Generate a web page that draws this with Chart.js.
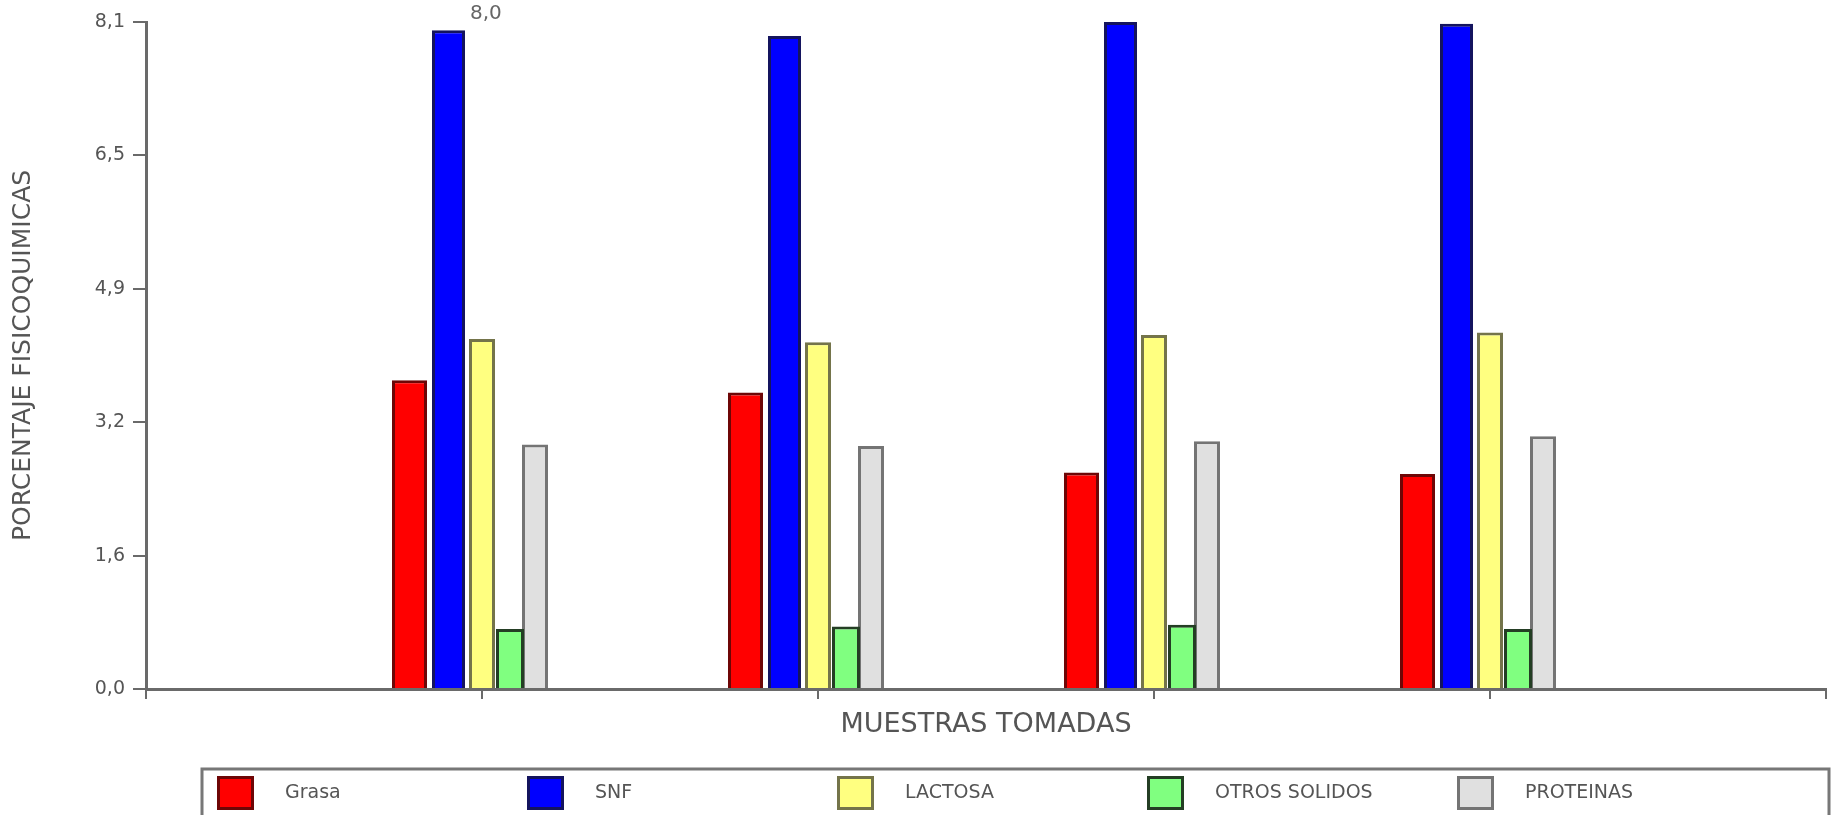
<!DOCTYPE html>
<html lang="es">
<head>
<meta charset="utf-8">
<title>Porcentaje fisicoquímicas por muestra</title>
<script src="https://cdn.jsdelivr.net/npm/chart.js@4/dist/chart.umd.min.js"></script>
<style>
  html, body { margin: 0; padding: 0; background: #ffffff; }
  #wrap { width: 1841px; height: 815px; position: relative; }
</style>
</head>
<body>
<div id="wrap"><canvas id="grafico" width="1841" height="815"></canvas></div>
<script>
// Muestras analizadas
const muestras = ['Muestra 1', 'Muestra 2', 'Muestra 3', 'Muestra 4'];

// Resultados fisicoquímicos (%) por muestra
const grasa        = [3.75, 3.60, 2.63, 2.61];
const snf          = [8.00, 7.93, 8.10, 8.08];
const lactosa      = [4.25, 4.21, 4.30, 4.33];
const otrosSolidos = [0.73, 0.76, 0.78, 0.73];
const proteinas    = [2.97, 2.95, 3.01, 3.07];

// Marcas del eje vertical
const marcasY = [0, 1.62, 3.24, 4.86, 6.48, 8.1];

// Valor rotulado sobre la barra: serie SNF, primera muestra
const rotulos = [{ serie: 1, muestra: 0 }];

const FUENTE = '"DejaVu Sans", "Liberation Sans", Arial, sans-serif';
Chart.defaults.font.family = FUENTE;

const coma = v => Number(v).toFixed(1).replace('.', ',');

// El eje X deja una posición vacía a cada lado de las muestras
const etiquetasX = ['', ...muestras, ''];
const rellenar = arr => [null, ...arr, null];

const series = [
  { label: 'Grasa',         data: grasa,        fondo: '#ff0000', borde: '#6e0606', cat: 0.5394, bar: 0.966 },
  { label: 'SNF',           data: snf,          fondo: '#0000ff', borde: '#14145e', cat: 0.4985, bar: 0.985 },
  { label: 'LACTOSA',       data: lactosa,      fondo: '#ffff80', borde: '#74744a', cat: 0.4464, bar: 0.867 },
  { label: 'OTROS SOLIDOS', data: otrosSolidos, fondo: '#80ff80', borde: '#243e24', cat: 0.4167, bar: 1.0 },
  { label: 'PROTEINAS',     data: proteinas,    fondo: '#e0e0e0', borde: '#747474', cat: 0.3943, bar: 0.981 }
];

// Rótulo de valor junto a la barra indicada
const rotuloValor = {
  id: 'rotuloValor',
  afterDatasetsDraw(chart) {
    const ctx = chart.ctx;
    ctx.save();
    ctx.font = '20px ' + FUENTE;
    ctx.fillStyle = '#666666';
    ctx.textAlign = 'left';
    ctx.textBaseline = 'bottom';
    rotulos.forEach(r => {
      const el = chart.getDatasetMeta(r.serie).data[r.muestra + 1];
      const valor = series[r.serie].data[r.muestra];
      ctx.fillText(coma(valor), el.x + el.width / 2 + 5, el.y - 6);
    });
    ctx.restore();
  }
};

// Leyenda enmarcada bajo el título del eje X
const leyendaCaja = {
  id: 'leyendaCaja',
  afterDraw(chart) {
    const ctx = chart.ctx;
    const area = chart.chartArea;
    const izq = area.left + 56;
    const der = area.right + 3;
    const arriba = chart.height - 46;
    ctx.save();
    ctx.strokeStyle = '#777777';
    ctx.lineWidth = 3;
    ctx.strokeRect(izq, arriba, der - izq, 80);
    const columna = 310;
    const anchoCaja = 37, altoCaja = 34;
    const yCaja = arriba + 7;
    ctx.font = '19px ' + FUENTE;
    ctx.textAlign = 'left';
    ctx.textBaseline = 'middle';
    chart.data.datasets.forEach((ds, i) => {
      const x = izq + 15 + i * columna;
      ctx.fillStyle = ds.backgroundColor;
      ctx.fillRect(x, yCaja, anchoCaja, altoCaja);
      ctx.strokeStyle = ds.borderColor;
      ctx.lineWidth = 3;
      ctx.strokeRect(x + 1.5, yCaja + 1.5, anchoCaja - 3, altoCaja - 3);
      ctx.fillStyle = '#555555';
      ctx.fillText(ds.label, x + 68, yCaja + altoCaja / 2);
    });
    ctx.restore();
  }
};

new Chart(document.getElementById('grafico'), {
  type: 'bar',
  data: {
    labels: etiquetasX,
    datasets: series.map(s => ({
      label: s.label,
      data: rellenar(s.data),
      backgroundColor: s.fondo,
      borderColor: s.borde,
      borderWidth: 3,
      borderSkipped: 'bottom',
      categoryPercentage: s.cat,
      barPercentage: s.bar
    }))
  },
  options: {
    responsive: false,
    animation: false,
    events: [],
    layout: { padding: { top: 22, right: 15, bottom: 66, left: 0 } },
    plugins: {
      legend: { display: false },
      tooltip: { enabled: false }
    },
    scales: {
      x: {
        type: 'category',
        offset: false,
        grid: { offset: false, drawOnChartArea: false, drawTicks: true, tickLength: 10, color: '#6a6a6a', lineWidth: 2 },
        border: { display: true, color: '#6a6a6a', width: 3 },
        ticks: { display: false },
        title: {
          display: true,
          text: 'MUESTRAS TOMADAS',
          color: '#555555',
          font: { size: 27 },
          padding: { top: 0, bottom: 8 }
        },
        afterFit: s => { s.height = 60; }
      },
      y: {
        type: 'linear',
        min: 0,
        max: 8.1,
        afterBuildTicks: s => { s.ticks = marcasY.map(v => ({ value: v })); },
        grid: { drawOnChartArea: false, drawTicks: true, tickLength: 13, color: '#6a6a6a', lineWidth: 2 },
        border: { display: true, color: '#6a6a6a', width: 3 },
        ticks: {
          color: '#555555',
          font: { size: 19 },
          padding: 8,
          callback: v => coma(v)
        },
        title: {
          display: true,
          text: 'PORCENTAJE FISICOQUIMICAS',
          color: '#555555',
          font: { size: 25 },
          padding: { top: 8, bottom: 0 }
        },
        afterFit: s => { s.width = 146; }
      }
    }
  },
  plugins: [rotuloValor, leyendaCaja]
});
</script>
</body>
</html>
